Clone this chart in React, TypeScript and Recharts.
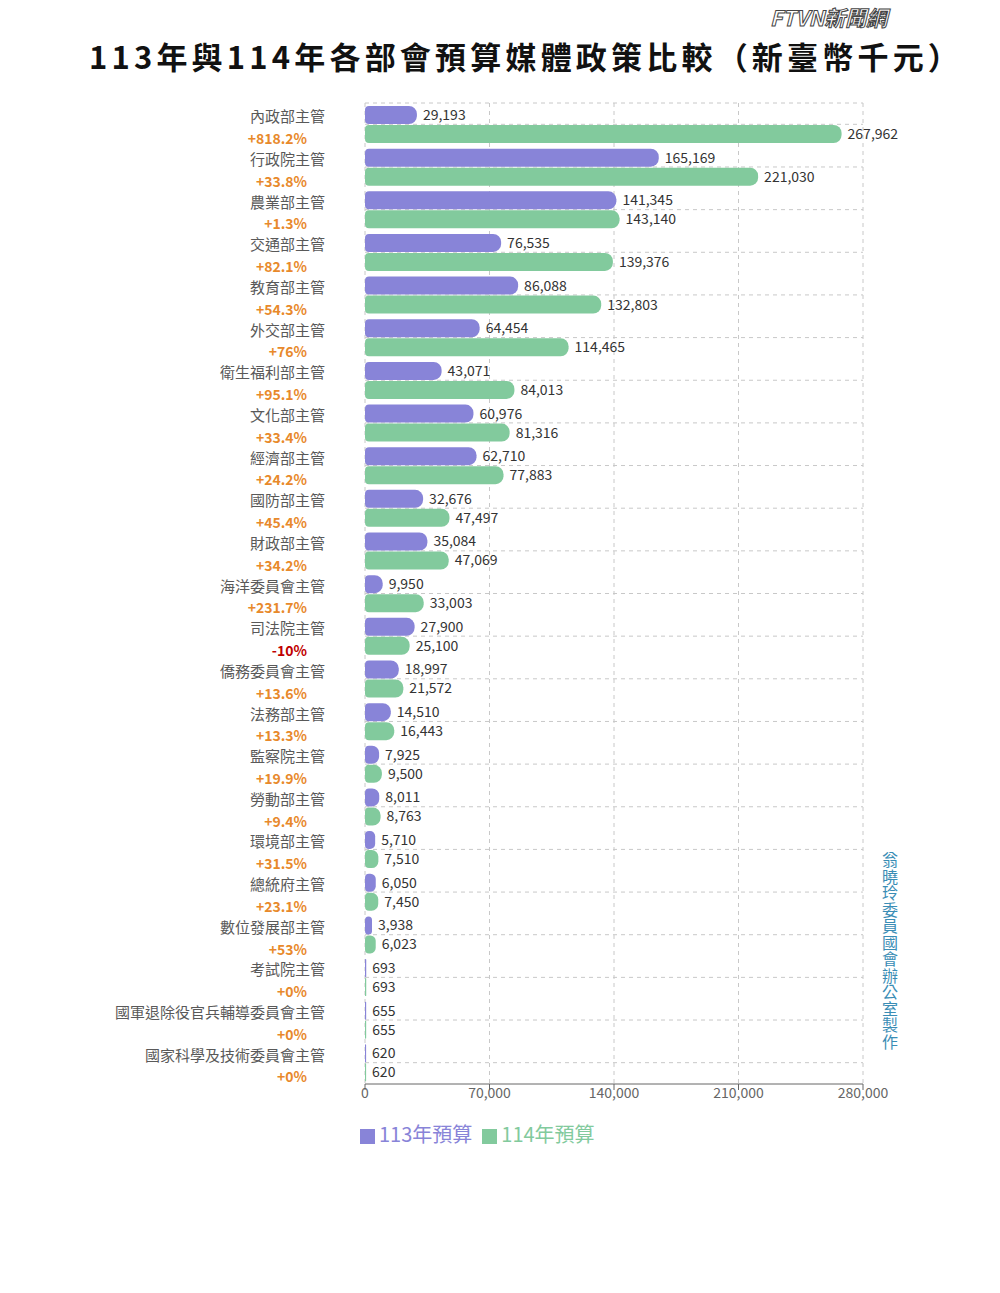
import React from 'react';
import { BarChart, Bar, XAxis, YAxis, CartesianGrid, Legend, LabelList } from 'recharts';

const categories = [
  '內政部主管', '行政院主管', '農業部主管', '交通部主管', '教育部主管', '外交部主管',
  '衛生福利部主管', '文化部主管', '經濟部主管', '國防部主管', '財政部主管', '海洋委員會主管',
  '司法院主管', '僑務委員會主管', '法務部主管', '監察院主管', '勞動部主管', '環境部主管',
  '總統府主管', '數位發展部主管', '考試院主管', '國軍退除役官兵輔導委員會主管', '國家科學及技術委員會主管',
];
const budget113 = [
  29193, 165169, 141345, 76535, 86088, 64454, 43071, 60976, 62710, 32676, 35084, 9950,
  27900, 18997, 14510, 7925, 8011, 5710, 6050, 3938, 693, 655, 620,
];
const budget114 = [
  267962, 221030, 143140, 139376, 132803, 114465, 84013, 81316, 77883, 47497, 47069, 33003,
  25100, 21572, 16443, 9500, 8763, 7510, 7450, 6023, 693, 655, 620,
];
const changeLabels = [
  '+818.2%', '+33.8%', '+1.3%', '+82.1%', '+54.3%', '+76%', '+95.1%', '+33.4%', '+24.2%',
  '+45.4%', '+34.2%', '+231.7%', '-10%', '+13.6%', '+13.3%', '+19.9%', '+9.4%', '+31.5%',
  '+23.1%', '+53%', '+0%', '+0%', '+0%',
];
const xTicks = [0, 70000, 140000, 210000, 280000];

const data = categories.map((name, i) => ({
  name,
  b113: budget113[i],
  b114: budget114[i],
  change: changeLabels[i],
}));

const FONT = "'Noto Sans CJK TC', 'Open Sans', sans-serif";
const fmt = (v: any) => Number(v).toLocaleString('en-US');

const YTick = (props: any) => {
  const { x, y, payload } = props;
  const i = categories.indexOf(payload.value);
  const change = changeLabels[i] || '';
  const neg = change.startsWith('-');
  return (
    <g>
      <text x={x - 32} y={y - 6} textAnchor="end" dominantBaseline="middle" fill="#595959" fontSize={15} fontFamily={FONT}>
        {payload.value}
      </text>
      <text x={x - 50} y={y + 16} textAnchor="end" dominantBaseline="middle" fill={neg ? '#C00000' : '#E8892B'} fontSize={14} fontWeight={700} fontFamily={FONT}>
        {change}
      </text>
    </g>
  );
};

const gridGen = (props: any) => {
  const { offset } = props;
  const n = categories.length;
  const band = offset.height / n;
  const pts = [offset.top];
  for (let i = 0; i < n; i++) pts.push(offset.top + band * (i + 0.5));
  return pts;
};

export default function App() {
  return (
    <div style={{ position: 'absolute', left: 0, top: 0, width: 1000, height: 1293, background: '#fff', fontFamily: FONT }}>
      <div style={{ position: 'absolute', left: 770, top: 3, fontSize: 21, fontWeight: 700, color: '#fff', WebkitTextStroke: '1px #444', fontStyle: 'italic', letterSpacing: 0, lineHeight: '28px', paddingRight: 6 }}>
        FTVN新聞網
      </div>
      <div style={{ position: 'absolute', left: 0, top: 39, width: 1052, textAlign: 'center', fontSize: 31, fontWeight: 700, color: '#111', letterSpacing: 4.2, lineHeight: '34px' }}>
        113年與114年各部會預算媒體政策比較（新臺幣千元）
      </div>
      <div style={{ position: 'absolute', left: 881, top: 852, writingMode: 'vertical-rl', fontSize: 16, color: '#3A8DB5', lineHeight: '18px', letterSpacing: 0.5 }}>
        翁曉玲委員國會辦公室製作
      </div>
      <BarChart
        width={1000}
        height={1293}
        data={data}
        layout="vertical"
        margin={{ top: 103, right: 137, left: 0, bottom: 150 }}
        barCategoryGap={3}
        barGap={1}
      >
        <CartesianGrid strokeDasharray="4 4" stroke="#c8c8c8" horizontalCoordinatesGenerator={gridGen} />
        <XAxis
          type="number"
          domain={[0, 280000]}
          ticks={xTicks}
          tickFormatter={fmt}
          tick={{ fill: '#666', fontSize: 14, dy: -4 }}
          stroke="#666"
        />
        <YAxis
          type="category"
          dataKey="name"
          width={365}
          axisLine={false}
          tickLine={false}
          interval={0}
          tick={<YTick />}
        />
        <Legend
          verticalAlign="bottom"
          align="left"
          iconType="square"
          iconSize={15}
          wrapperStyle={{ left: 360, top: 1119, fontSize: 20 }}
        />
        <Bar dataKey="b113" name="113年預算" fill="#8884d8" radius={[4, 8, 8, 4]} isAnimationActive={false}>
          <LabelList dataKey="b113" position="right" formatter={fmt} fill="#333" fontSize={14} offset={6} />
        </Bar>
        <Bar dataKey="b114" name="114年預算" fill="#82ca9d" radius={[4, 8, 8, 4]} isAnimationActive={false}>
          <LabelList dataKey="b114" position="right" formatter={fmt} fill="#333" fontSize={14} offset={6} />
        </Bar>
      </BarChart>
    </div>
  );
}
